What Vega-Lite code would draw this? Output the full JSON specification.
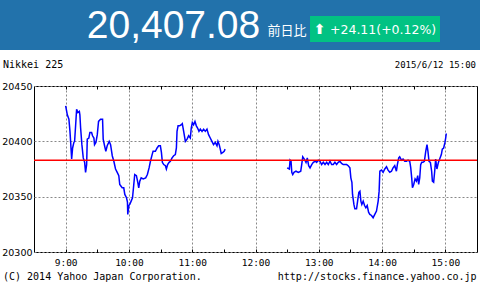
{
  "$schema": "https://vega.github.io/schema/vega-lite/v6.json",
  "padding": 0,
  "background": "#ffffff",
  "spacing": 0,
  "config": {"view": {"stroke": null}, "concat": {"spacing": 0}},
  "datasets": {
    "series": [
      {"s":"am","t":540,"v":20432},{"s":"am","t":541.6,"v":20424},{"s":"am","t":543.1,"v":20420},{"s":"am","t":544.1,"v":20409},{"s":"am","t":544.7,"v":20400},{"s":"am","t":545.7,"v":20384},{"s":"am","t":546.6,"v":20394},{"s":"am","t":547.8,"v":20399},{"s":"am","t":548.5,"v":20400},{"s":"am","t":549.5,"v":20415},{"s":"am","t":550.4,"v":20429},{"s":"am","t":551.6,"v":20426},{"s":"am","t":553,"v":20427},{"s":"am","t":553.5,"v":20424},{"s":"am","t":554.2,"v":20412},{"s":"am","t":555.4,"v":20397},{"s":"am","t":556.7,"v":20385},{"s":"am","t":558,"v":20381},{"s":"am","t":558.9,"v":20372},{"s":"am","t":559.9,"v":20379},{"s":"am","t":560.5,"v":20402},{"s":"am","t":562,"v":20403},{"s":"am","t":563,"v":20408},{"s":"am","t":564.6,"v":20408},{"s":"am","t":565.5,"v":20405},{"s":"am","t":566.8,"v":20403},{"s":"am","t":567.4,"v":20397},{"s":"am","t":568.7,"v":20399},{"s":"am","t":570,"v":20406},{"s":"am","t":571.2,"v":20418},{"s":"am","t":573.1,"v":20420},{"s":"am","t":575,"v":20420},{"s":"am","t":575.6,"v":20402},{"s":"am","t":576.9,"v":20396},{"s":"am","t":578.1,"v":20391},{"s":"am","t":579.4,"v":20396},{"s":"am","t":581.3,"v":20400},{"s":"am","t":582.6,"v":20397},{"s":"am","t":584.2,"v":20387},{"s":"am","t":585.7,"v":20382},{"s":"am","t":587.3,"v":20375},{"s":"am","t":588.9,"v":20372},{"s":"am","t":590.4,"v":20369},{"s":"am","t":591.3,"v":20361},{"s":"am","t":593.6,"v":20358},{"s":"am","t":595.1,"v":20358},{"s":"am","t":596.1,"v":20352},{"s":"am","t":597.7,"v":20349},{"s":"am","t":598.6,"v":20345},{"s":"am","t":598.9,"v":20334},{"s":"am","t":599.9,"v":20342},{"s":"am","t":600.8,"v":20343},{"s":"am","t":602.1,"v":20346},{"s":"am","t":603.4,"v":20349},{"s":"am","t":604.6,"v":20361},{"s":"am","t":605.5,"v":20370},{"s":"am","t":607.1,"v":20369},{"s":"am","t":608.4,"v":20363},{"s":"am","t":609.3,"v":20358},{"s":"am","t":610.3,"v":20364},{"s":"am","t":611.6,"v":20367},{"s":"am","t":613.5,"v":20366},{"s":"am","t":615.9,"v":20367},{"s":"am","t":617.5,"v":20370},{"s":"am","t":619.1,"v":20376},{"s":"am","t":620.4,"v":20382},{"s":"am","t":622,"v":20388},{"s":"am","t":622.9,"v":20391},{"s":"am","t":625.1,"v":20391},{"s":"am","t":626.7,"v":20394},{"s":"am","t":628.2,"v":20396},{"s":"am","t":629.8,"v":20396},{"s":"am","t":630.8,"v":20390},{"s":"am","t":631.7,"v":20381},{"s":"am","t":633,"v":20379},{"s":"am","t":634.6,"v":20378},{"s":"am","t":635.5,"v":20375},{"s":"am","t":636.7,"v":20379},{"s":"am","t":638.1,"v":20381},{"s":"am","t":639.3,"v":20382},{"s":"am","t":640.9,"v":20385},{"s":"am","t":642.4,"v":20387},{"s":"am","t":644,"v":20388},{"s":"am","t":645,"v":20394},{"s":"am","t":645.6,"v":20409},{"s":"am","t":646.6,"v":20414},{"s":"am","t":648.1,"v":20414},{"s":"am","t":649.7,"v":20415},{"s":"am","t":650.6,"v":20416},{"s":"am","t":651.9,"v":20409},{"s":"am","t":653.5,"v":20400},{"s":"am","t":655.1,"v":20402},{"s":"am","t":656.6,"v":20405},{"s":"am","t":658.2,"v":20403},{"s":"am","t":659.1,"v":20412},{"s":"am","t":660.1,"v":20417},{"s":"am","t":661.3,"v":20415},{"s":"am","t":662.6,"v":20418},{"s":"am","t":663.9,"v":20414},{"s":"am","t":665.1,"v":20412},{"s":"am","t":666.4,"v":20409},{"s":"am","t":667.7,"v":20411},{"s":"am","t":669.3,"v":20409},{"s":"am","t":670.8,"v":20411},{"s":"am","t":672.4,"v":20409},{"s":"am","t":674,"v":20411},{"s":"am","t":675.5,"v":20406},{"s":"am","t":677.1,"v":20403},{"s":"am","t":678.7,"v":20400},{"s":"am","t":680.2,"v":20397},{"s":"am","t":681.8,"v":20399},{"s":"am","t":683.5,"v":20396},{"s":"am","t":684.4,"v":20400},{"s":"am","t":685.6,"v":20397},{"s":"am","t":686.6,"v":20393},{"s":"am","t":687.5,"v":20389},{"s":"am","t":689.1,"v":20390},{"s":"am","t":690.3,"v":20391},{"s":"am","t":691.2,"v":20393},
      {"s":"pm","t":750,"v":20376},{"s":"pm","t":752.1,"v":20375},{"s":"pm","t":752.8,"v":20383},{"s":"pm","t":753.7,"v":20382},{"s":"pm","t":754.4,"v":20372},{"s":"pm","t":755.3,"v":20370},{"s":"pm","t":756.5,"v":20372},{"s":"pm","t":758.4,"v":20373},{"s":"pm","t":760.6,"v":20372},{"s":"pm","t":762.9,"v":20373},{"s":"pm","t":763.8,"v":20379},{"s":"pm","t":764.8,"v":20386},{"s":"pm","t":766.3,"v":20384},{"s":"pm","t":767.9,"v":20381},{"s":"pm","t":769.1,"v":20385},{"s":"pm","t":770.4,"v":20378},{"s":"pm","t":771.7,"v":20376},{"s":"pm","t":773.3,"v":20379},{"s":"pm","t":774.8,"v":20381},{"s":"pm","t":776.7,"v":20382},{"s":"pm","t":778,"v":20381},{"s":"pm","t":779.5,"v":20383},{"s":"pm","t":781.1,"v":20382},{"s":"pm","t":782.7,"v":20379},{"s":"pm","t":784.3,"v":20381},{"s":"pm","t":785.9,"v":20379},{"s":"pm","t":787.5,"v":20381},{"s":"pm","t":789,"v":20379},{"s":"pm","t":790.6,"v":20382},{"s":"pm","t":792.2,"v":20379},{"s":"pm","t":793.7,"v":20379},{"s":"pm","t":795.3,"v":20381},{"s":"pm","t":796.9,"v":20379},{"s":"pm","t":798.4,"v":20381},{"s":"pm","t":800,"v":20382},{"s":"pm","t":801.6,"v":20380},{"s":"pm","t":803.2,"v":20379},{"s":"pm","t":806.4,"v":20379},{"s":"pm","t":807.9,"v":20378},{"s":"pm","t":809.5,"v":20376},{"s":"pm","t":810.4,"v":20367},{"s":"pm","t":811.4,"v":20363},{"s":"pm","t":812,"v":20352},{"s":"pm","t":813.3,"v":20343},{"s":"pm","t":814.2,"v":20339},{"s":"pm","t":815.8,"v":20339},{"s":"pm","t":816.8,"v":20346},{"s":"pm","t":818,"v":20354},{"s":"pm","t":819,"v":20355},{"s":"pm","t":819.9,"v":20346},{"s":"pm","t":820.8,"v":20343},{"s":"pm","t":822.1,"v":20346},{"s":"pm","t":823.4,"v":20342},{"s":"pm","t":824.6,"v":20340},{"s":"pm","t":825.9,"v":20342},{"s":"pm","t":827.2,"v":20336},{"s":"pm","t":828.4,"v":20334},{"s":"pm","t":830,"v":20333},{"s":"pm","t":831.5,"v":20331},{"s":"pm","t":833.1,"v":20334},{"s":"pm","t":834.7,"v":20337},{"s":"pm","t":836.3,"v":20346},{"s":"pm","t":837.2,"v":20355},{"s":"pm","t":837.9,"v":20373},{"s":"pm","t":839.5,"v":20374},{"s":"pm","t":841,"v":20372},{"s":"pm","t":842.6,"v":20375},{"s":"pm","t":844.2,"v":20377},{"s":"pm","t":845.7,"v":20374},{"s":"pm","t":847.3,"v":20372},{"s":"pm","t":848.9,"v":20373},{"s":"pm","t":850.4,"v":20376},{"s":"pm","t":852,"v":20378},{"s":"pm","t":853.6,"v":20373},{"s":"pm","t":854.5,"v":20379},{"s":"pm","t":855.8,"v":20385},{"s":"pm","t":856.7,"v":20386},{"s":"pm","t":858.4,"v":20383},{"s":"pm","t":859.9,"v":20384},{"s":"pm","t":861.5,"v":20382},{"s":"pm","t":863.1,"v":20382},{"s":"pm","t":864.6,"v":20383},{"s":"pm","t":866.2,"v":20382},{"s":"pm","t":867.2,"v":20376},{"s":"pm","t":868.1,"v":20367},{"s":"pm","t":868.8,"v":20358},{"s":"pm","t":870,"v":20361},{"s":"pm","t":871.3,"v":20366},{"s":"pm","t":872.6,"v":20364},{"s":"pm","t":873.8,"v":20369},{"s":"pm","t":874.7,"v":20361},{"s":"pm","t":875.7,"v":20367},{"s":"pm","t":876.6,"v":20379},{"s":"pm","t":877.6,"v":20381},{"s":"pm","t":878.8,"v":20381},{"s":"pm","t":880.1,"v":20382},{"s":"pm","t":881.4,"v":20391},{"s":"pm","t":882.6,"v":20397},{"s":"pm","t":883.5,"v":20391},{"s":"pm","t":884.5,"v":20382},{"s":"pm","t":885.8,"v":20381},{"s":"pm","t":887,"v":20373},{"s":"pm","t":887.7,"v":20364},{"s":"pm","t":888.9,"v":20363},{"s":"pm","t":889.9,"v":20373},{"s":"pm","t":890.8,"v":20384},{"s":"pm","t":892,"v":20375},{"s":"pm","t":893.4,"v":20381},{"s":"pm","t":894.6,"v":20384},{"s":"pm","t":896.2,"v":20388},{"s":"pm","t":897.1,"v":20393},{"s":"pm","t":898.4,"v":20394},{"s":"pm","t":899.6,"v":20399},{"s":"pm","t":900.3,"v":20403},{"s":"pm","t":900.9,"v":20407.08}
    ],
    "header": [{"price": "20,407.08", "label": "前日比", "arrow": "⬆", "change": "+24.11(+0.12%)"}],
    "info": [{"name": "Nikkei 225", "stamp": "2015/6/12 15:00", "copy": "(C) 2014 Yahoo Japan Corporation.", "url": "http://stocks.finance.yahoo.co.jp"}],
    "close": [{"prev": 20382.97}],
    "blank": [{"b": ""}]
  },
  "vconcat": [
    {
      "width": 480,
      "height": 50,
      "view": {"fill": "#2272ab", "stroke": null},
      "data": {"name": "header"},
      "layer": [
        {"mark": {"type": "text", "font": "Liberation Sans", "fontSize": 39, "color": "#ffffff", "align": "center", "baseline": "alphabetic", "dx": -66.5, "dy": 12.5}, "encoding": {"text": {"field": "price"}}},
        {"mark": {"type": "text", "font": "Noto Sans CJK JP", "fontSize": 13, "color": "#ffffff", "align": "center", "baseline": "alphabetic", "dx": 47, "dy": 9.5}, "encoding": {"text": {"field": "label"}}},
        {"mark": {"type": "point", "shape": "M1.077,-0.138L3.077,-0.138L3.077,0.262L1.077,0.262Z", "size": 16900, "filled": true, "color": "#02c283", "opacity": 1, "strokeWidth": 0}, "encoding": {}},
        {"mark": {"type": "text", "font": "DejaVu Sans", "fontSize": 14, "fontWeight": "bold", "color": "#ffffff", "align": "center", "baseline": "alphabetic", "dx": 79.5, "dy": 9}, "encoding": {"text": {"field": "arrow"}}},
        {"mark": {"type": "text", "font": "DejaVu Sans", "fontSize": 12.5, "color": "#ffffff", "align": "left", "baseline": "alphabetic", "dx": 90, "dy": 8.5}, "encoding": {"text": {"field": "change"}}}
      ]
    },
    {
      "width": 480,
      "height": 30,
      "data": {"name": "info"},
      "layer": [
        {"mark": {"type": "text", "font": "DejaVu Sans Mono", "fontSize": 10, "color": "#000000", "align": "left", "baseline": "alphabetic", "dx": -237, "dy": 3}, "encoding": {"text": {"field": "name"}}},
        {"mark": {"type": "text", "font": "DejaVu Sans Mono", "fontSize": 9, "color": "#000000", "align": "right", "baseline": "alphabetic", "dx": 236, "dy": 3}, "encoding": {"text": {"field": "stamp"}}}
      ]
    },
    {
      "spacing": 0,
      "hconcat": [
        {
          "width": 1,
          "height": 166,
          "data": {"name": "blank"},
          "mark": {"type": "text"},
          "encoding": {"text": {"field": "b"}}
        },
        {
          "width": 443,
          "height": 166,
          "view": {"stroke": "#000000", "strokeWidth": 1},
          "resolve": {"axis": {"x": "independent"}},
          "layer": [
            {
              "data": {"name": "series"},
              "transform": [{"filter": "datum.s === 'am'"}],
              "mark": {"type": "line", "color": "#0000ff", "strokeWidth": 1.5, "interpolate": "linear"},
              "encoding": {
                "x": {"field": "t", "type": "quantitative", "scale": {"domain": [510, 930], "nice": false, "zero": false},
                  "axis": {"orient": "bottom", "title": null, "values": [540,570,600,630,660,690,720,750,780,810,840,870,900],
                    "labelExpr": "datum.value % 60 === 0 ? floor(datum.value / 60) + ':00' : ''",
                    "labelFont": "DejaVu Sans Mono", "labelFontSize": 9.5, "labelColor": "#000000", "labelPadding": 8,
                    "tickSize": -3, "tickColor": "#000000", "domain": false,
                    "grid": true, "gridColor": "#888888", "gridDash": [2, 2],
                    "gridOpacity": {"condition": {"test": "datum.value % 60 === 0", "value": 1}, "value": 0}}},
                "y": {"field": "v", "type": "quantitative", "scale": {"domain": [20300, 20450], "nice": false, "zero": false},
                  "axis": {"title": null, "values": [20300, 20350, 20400, 20450], "format": "d",
                    "labelFont": "DejaVu Sans", "labelFontSize": 9.5, "labelColor": "#000000", "labelPadding": 2,
                    "tickSize": 0, "domain": false, "minExtent": 31,
                    "grid": true, "gridColor": "#888888", "gridDash": [2, 2]}}
              }
            },
            {
              "data": {"name": "series"},
              "transform": [{"filter": "datum.s === 'pm'"}],
              "mark": {"type": "line", "color": "#0000ff", "strokeWidth": 1.5, "interpolate": "linear"},
              "encoding": {
                "x": {"field": "t", "type": "quantitative",
                  "axis": {"orient": "top", "title": null, "values": [540,570,600,630,660,690,720,750,780,810,840,870,900],
                    "labels": false, "tickSize": -3, "tickColor": "#000000", "domain": false, "grid": false}},
                "y": {"field": "v", "type": "quantitative"}
              }
            },
            {
              "data": {"name": "close"},
              "mark": {"type": "rule", "color": "#ff0000", "strokeWidth": 1.5},
              "encoding": {"y": {"field": "prev", "type": "quantitative"}}
            }
          ]
        }
      ]
    },
    {
      "width": 480,
      "height": 25,
      "data": {"name": "info"},
      "layer": [
        {"mark": {"type": "text", "font": "DejaVu Sans Mono", "fontSize": 10, "color": "#000000", "align": "left", "baseline": "alphabetic", "dx": -237, "dy": 0.5}, "encoding": {"text": {"field": "copy"}}},
        {"mark": {"type": "text", "font": "DejaVu Sans Mono", "fontSize": 10, "color": "#000000", "align": "right", "baseline": "alphabetic", "dx": 236.5, "dy": 0.5}, "encoding": {"text": {"field": "url"}}}
      ]
    }
  ]
}
